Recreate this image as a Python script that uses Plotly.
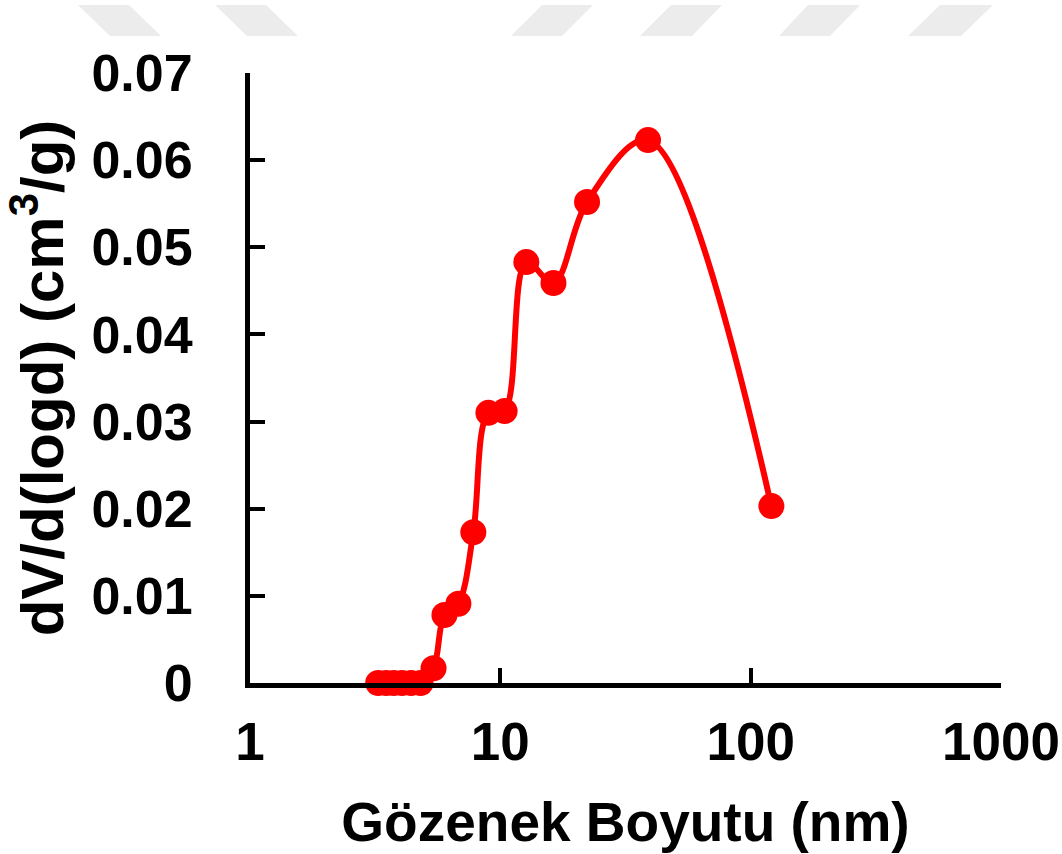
import plotly.graph_objects as go

# Data
pore_size_nm = [3.25, 3.5, 3.75, 4.05, 4.4, 4.8, 5.41, 5.98, 6.8, 7.8, 8.96, 10.4,
                12.7, 16.3, 22.2, 38.9, 121]
dv_dlogd = [0, 0, 0, 0, 0, 0, 0.0017, 0.0078, 0.0091, 0.0173, 0.0310, 0.0312,
            0.0483, 0.0459, 0.0552, 0.0623, 0.0203]

x_tick_vals = [1, 10, 100, 1000]
x_tick_text = ["1", "10", "100", "1000"]
y_tick_vals = [0, 0.01, 0.02, 0.03, 0.04, 0.05, 0.06, 0.07]
y_tick_text = ["0", "0.01", "0.02", "0.03", "0.04", "0.05", "0.06", "0.07"]

W, H = 1062, 854
FONT = "Liberation Sans, Arial, sans-serif"

fig = go.Figure()
fig.add_trace(go.Scatter(
    x=pore_size_nm, y=dv_dlogd, mode="lines+markers",
    line=dict(color="#ff0000", width=6, shape="spline", smoothing=1.0),
    marker=dict(color="#ff0000", size=26),
    showlegend=False, cliponaxis=False,
))

# decorative grey stripes at the top (pixel coords)
stripes = [
    [(78, 5), (129, 5), (161, 36), (110, 36)],
    [(215, 5), (266, 5), (298, 36), (247, 36)],
    [(542, 5), (593, 5), (562, 36), (511, 36)],
    [(671, 5), (722, 5), (692, 36), (640, 36)],
    [(808, 5), (860, 5), (830, 36), (779, 36)],
    [(940, 5), (993, 5), (961, 36), (908, 36)],
]
L, R, T, B = 250, 61, 73, 171
pw, ph = W - L - R, H - T - B
def px2paper(px, py):
    return (px - L) / pw, 1 - (py - T) / ph
shapes = []
for s in stripes:
    pts = [px2paper(*p) for p in s]
    path = "M " + " L ".join(f"{a:.4f},{b:.4f}" for a, b in pts) + " Z"
    shapes.append(dict(type="path", xref="paper", yref="paper", path=path,
                       fillcolor="#ececec", line=dict(width=0), layer="below"))

fig.update_layout(
    width=W, height=H,
    margin=dict(l=L, r=R, t=T, b=B, autoexpand=False),
    plot_bgcolor="white", paper_bgcolor="white",
    font=dict(family=FONT, color="black", size=52, weight="bold"),
    shapes=shapes,
    xaxis=dict(
        type="log", range=[0, 3], automargin=False,
        tickvals=x_tick_vals, ticktext=x_tick_text,
        ticks="inside", ticklen=15, tickwidth=4, tickcolor="black",
        showline=True, linecolor="black", linewidth=5,
        showgrid=False, zeroline=False,
        tickfont=dict(family=FONT, size=53, weight="bold"),
        ticklabelstandoff=8,
        title=dict(text="Gözenek Boyutu (nm)", standoff=34,
                   font=dict(family=FONT, size=55, weight="bold")),
    ),
    yaxis=dict(
        range=[0, 0.07], automargin=False,
        tickvals=y_tick_vals, ticktext=y_tick_text,
        ticks="inside", ticklen=15, tickwidth=4, tickcolor="black",
        showline=True, linecolor="black", linewidth=5,
        showgrid=False, zeroline=False,
        tickfont=dict(family=FONT, size=52, weight="bold"),
        ticklabelstandoff=42,
        title=dict(text="dV/d(logd) (cm<sup>3</sup>/g)", standoff=24,
                   font=dict(family=FONT, size=60, weight="bold")),
    ),
)
fig.write_html("out.html", config={"displayModeBar": False},
               post_script="document.body.style.margin='0';")
